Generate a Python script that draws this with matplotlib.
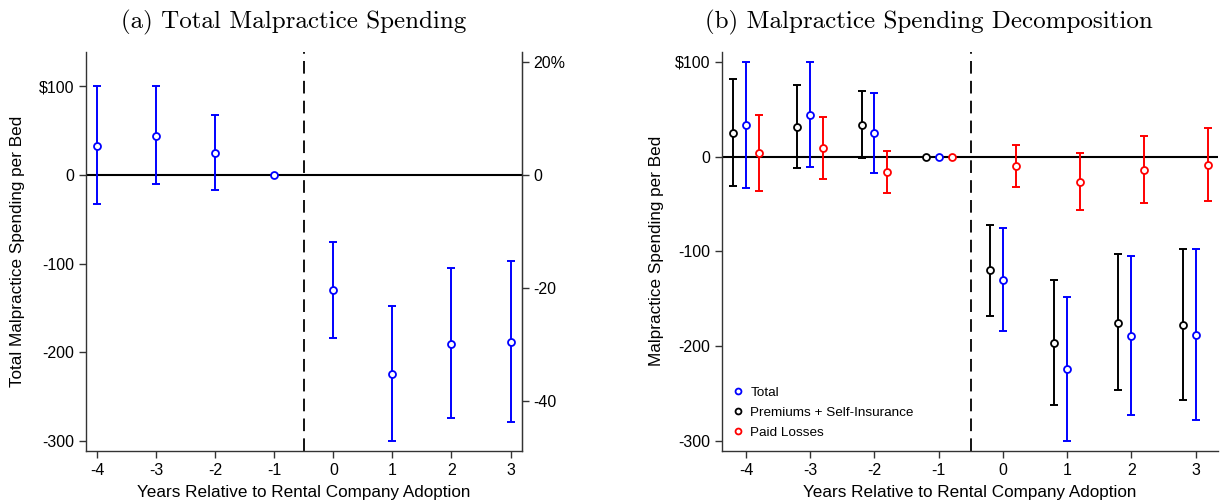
import numpy as np
import matplotlib.pyplot as plt

plt.rcParams['font.family'] = ['Liberation Sans', 'DejaVu Sans']
plt.rcParams['axes.unicode_minus'] = False

# ======== DATA ========
years = [-4, -3, -2, -1, 0, 1, 2, 3]

total = [33, 44, 25, 0, -130, -224, -190, -188]
total_lo = [-33, -10.5, -17, 0, -184, -300, -273.5, -278]
total_hi = [100, 100, 67, 0, -75.5, -148, -105, -97.5]

prem = [25, 31.7, 33.5, 0, -120, -196.5, -175.4, -177.8]
prem_lo = [-31.3, -12.3, -1.4, 0, -168, -262.7, -247, -257.4]
prem_hi = [81.7, 76, 69.4, 0, -72.5, -130, -103.2, -97.9]

paid = [4.2, 8.8, -16.2, 0, -10.2, -26.4, -13.7, -8.5]
paid_lo = [-35.9, -23.6, -38.4, 0, -32.4, -56, -48.6, -46.8]
paid_hi = [44.4, 41.5, 6, 0, 12.3, 3.5, 22.2, 30]

# baseline spending: $127.4 per bed = 20%
pct_per_dollar = 20 / 127.4


def draw_series(ax, x, y, lo, hi, color, label=None):
    x = np.array(x, dtype=float)
    y = np.array(y, dtype=float)
    err = np.vstack([y - np.array(lo), np.array(hi) - y])
    has_err = err.sum(axis=0) > 0
    ax.errorbar(x[has_err], y[has_err], yerr=err[:, has_err], fmt='none',
                ecolor=color, elinewidth=1.4, capsize=3, capthick=1.4, zorder=3)
    ax.plot(x, y, 'o', mfc='white', mec=color, mew=1.3, ms=5,
            linestyle='none', zorder=4, label=label)


def style_axes(ax):
    for s in ['left', 'bottom', 'right']:
        ax.spines[s].set_color('#333333')
        ax.spines[s].set_linewidth(1.0)
    ax.spines['top'].set_visible(False)
    ax.tick_params(labelsize=11.5, length=5, width=1.0, color='#333333')
    ax.set_xticks(years)
    ax.set_xticklabels([str(v) for v in years])
    ax.set_yticks([100, 0, -100, -200, -300])
    ax.set_yticklabels(['$100', '0', '-100', '-200', '-300'])
    ax.axhline(0, color='black', lw=1.5, zorder=2)
    ax.axvline(-0.5, color='black', lw=1.3, ls=(0, (7, 4)), zorder=2)
    ax.set_xlabel('Years Relative to Rental Company Adoption', fontsize=12.3, labelpad=5)


fig = plt.figure(figsize=(12.25, 5.04), dpi=100)

# ======== (a) total ========
ax1 = fig.add_axes([0.0702, 0.1052, 0.3557, 0.7926])
style_axes(ax1)
draw_series(ax1, years, total, total_lo, total_hi, 'blue')
ax1.set_xlim(-4.19, 3.19)
ax1.set_ylim(-311, 139)
ax1.set_ylabel('Total Malpractice Spending per Bed', fontsize=12.3, labelpad=10)

ax1r = ax1.twinx()
ax1r.set_ylim(-311 * pct_per_dollar, 139 * pct_per_dollar)
ax1r.set_yticks([20, 0, -20, -40])
ax1r.set_yticklabels(['20%', '0', '-20', '-40'])
ax1r.tick_params(labelsize=11.5, length=5, width=1.0, color='#333333')
for s in ['top', 'left', 'bottom']:
    ax1r.spines[s].set_visible(False)
ax1r.spines['right'].set_color('#333333')

# ======== (b) decomposition ========
ax2 = fig.add_axes([0.5896, 0.1052, 0.4047, 0.7926])
style_axes(ax2)
ax2.spines['right'].set_visible(False)
yr = np.array(years, dtype=float)
draw_series(ax2, yr - 0.2, prem, prem_lo, prem_hi, 'black', 'Premiums + Self-Insurance')
draw_series(ax2, yr, total, total_lo, total_hi, 'blue', 'Total')
draw_series(ax2, yr + 0.2, paid, paid_lo, paid_hi, 'red', 'Paid Losses')
ax2.set_xlim(-4.37, 3.35)
ax2.set_ylim(-311, 111)
ax2.set_ylabel('Malpractice Spending per Bed', fontsize=12.3, labelpad=8)

h, l = ax2.get_legend_handles_labels()
order = [1, 0, 2]
ax2.legend([h[i] for i in order], [l[i] for i in order], loc='lower left',
           bbox_to_anchor=(-0.01, 0.0), frameon=False, fontsize=9.7,
           handletextpad=0.35, labelspacing=0.55, markerscale=0.85, handlelength=1.2)

fig.text(0.240, 0.955, '(a) Total Malpractice Spending', ha='center', va='center',
         fontsize=18, family='cmr10')
fig.text(0.758, 0.955, '(b) Malpractice Spending Decomposition', ha='center', va='center',
         fontsize=18, family='cmr10')

fig.savefig('out.png', dpi=100)
